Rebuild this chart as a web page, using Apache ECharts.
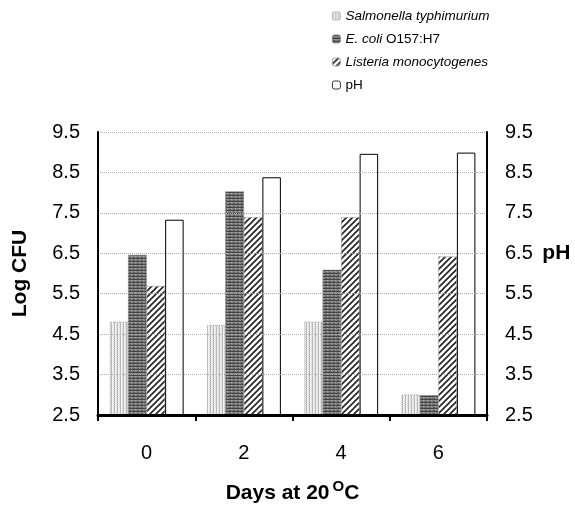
<!DOCTYPE html>
<html><head><meta charset="utf-8">
<script src="https://cdn.jsdelivr.net/npm/echarts@6/dist/echarts.min.js"></script>
<style>html,body{margin:0;padding:0;background:#fff}#c{width:575px;height:505px}</style>
</head><body><div id="c"></div>
<script>
var days = ['0', '2', '4', '6'];
var salmonella = [4.81, 4.73, 4.81, 3.01];
var ecoli = [6.46, 8.03, 6.09, 2.99];
var listeria = [5.69, 7.39, 7.39, 6.42];
var ph = [7.33, 8.38, 8.96, 8.99];
var yTicks = [2.5, 3.5, 4.5, 5.5, 6.5, 7.5, 8.5, 9.5];

function pat(w, h, draw) {
  var c = document.createElement('canvas');
  c.width = w; c.height = h;
  var g = c.getContext('2d');
  draw(g, w, h);
  return { image: c, repeat: 'repeat' };
}
var salPat = pat(3, 2, function (g) {
  g.fillStyle = '#f2f2f2'; g.fillRect(0, 0, 3, 2);
  g.fillStyle = '#a8a8a8'; g.fillRect(0, 0, 1, 1);
  g.fillStyle = '#c8c8c8'; g.fillRect(0, 1, 1, 1);
  g.fillStyle = '#d8d8d8'; g.fillRect(2, 1, 1, 1);
});
var ecoPat = pat(4, 3, function (g) {
  g.fillStyle = '#858585'; g.fillRect(0, 0, 4, 3);
  g.fillStyle = '#444'; g.fillRect(0, 0, 4, 1);
  g.fillStyle = '#606060'; g.fillRect(1, 2, 2, 1);
  g.fillStyle = '#aaa'; g.fillRect(3, 1, 1, 1);
});
var lisPat = pat(6, 6, function (g) {
  g.fillStyle = '#fff'; g.fillRect(0, 0, 6, 6);
  g.strokeStyle = '#222'; g.lineWidth = 1.6;
  g.beginPath();
  g.moveTo(-1, 7); g.lineTo(7, -1);
  g.moveTo(-1, 1); g.lineTo(1, -1);
  g.moveTo(5, 7); g.lineTo(7, 5);
  g.stroke();
});

var chart = echarts.init(document.getElementById('c'), null, { renderer: 'canvas' });
var labelFont = { fontFamily: 'Liberation Sans, Arial, sans-serif', fontSize: 20, color: '#000' };
chart.setOption({
  animation: false,
  textStyle: { fontFamily: 'Liberation Sans, Arial, sans-serif' },
  grid: { left: 98, right: 88, top: 132, bottom: 90, containLabel: false, outerBoundsMode: 'none' },
  legend: {
    orient: 'vertical', left: 327, top: 4,
    itemWidth: 8, itemHeight: 8, itemGap: 9,
    itemStyle: { borderWidth: 0.8 },
    textStyle: { fontSize: 13.5, color: '#000', rich: { i: { fontStyle: 'italic', fontSize: 13.5 } } },
    data: ['Salmonella typhimurium', 'E. coli O157:H7', 'Listeria monocytogenes', 'pH'],
    formatter: function (n) {
      if (n === 'E. coli O157:H7') return '{i|E. coli} O157:H7';
      if (n === 'pH') return 'pH';
      return '{i|' + n + '}';
    }
  },
  xAxis: {
    type: 'category', data: days, z: 10,
    axisLine: { lineStyle: { color: '#000', width: 3 } },
    axisTick: { show: true, length: 6, lineStyle: { color: '#000', width: 2 } },
    axisLabel: Object.assign({ margin: 28 }, labelFont),
    name: 'Days at 20{s|O}C', nameLocation: 'middle', nameGap: 64,
    nameTextStyle: { fontSize: 21, fontWeight: 'bold', color: '#000',
      rich: { s: { fontSize: 15, fontWeight: 'bold', verticalAlign: 'top', padding: [0, 0, 13, 3] } } }
  },
  yAxis: [{
    type: 'value', min: 2.5, max: 9.5, interval: 1, z: 10,
    axisLine: { show: true, lineStyle: { color: '#000', width: 2 } },
    axisTick: { show: false },
    axisLabel: Object.assign({ margin: 18 }, labelFont),
    splitLine: { show: true, lineStyle: { color: '#aaa', type: 'dotted', width: 1 } },
    name: 'Log CFU', nameLocation: 'middle', nameGap: 67,
    nameTextStyle: { fontSize: 21, fontWeight: 'bold', color: '#000' }
  }, {
    type: 'value', min: 2.5, max: 9.5, interval: 1, position: 'right', z: 10,
    axisLine: { show: true, lineStyle: { color: '#000', width: 2 } },
    axisTick: { show: false },
    splitLine: { show: false },
    axisLabel: Object.assign({ margin: 18,
      formatter: function (v) { return v === 6.5 ? v.toFixed(1) + ' {b|pH}' : v.toFixed(1); },
      rich: { b: { fontSize: 21, fontWeight: 'bold', color: '#000', padding: [0, 0, 0, 4] } } }, labelFont)
  }],
  series: [
    { name: 'Salmonella typhimurium', type: 'bar', data: salmonella, barWidth: 18.5, barGap: '0%',
      itemStyle: { color: salPat, borderColor: '#aaa', borderWidth: 1, borderType: 'dotted' } },
    { name: 'E. coli O157:H7', type: 'bar', data: ecoli, barWidth: 18.5, barGap: '0%',
      itemStyle: { color: ecoPat, borderColor: '#777', borderWidth: 0.5 } },
    { name: 'Listeria monocytogenes', type: 'bar', data: listeria, barWidth: 18.5, barGap: '0%',
      itemStyle: { color: lisPat, borderColor: '#999', borderWidth: 0.5 } },
    { name: 'pH', type: 'bar', data: ph, yAxisIndex: 1, barWidth: 18.5, barGap: '0%',
      itemStyle: { color: '#fff', borderColor: '#000', borderWidth: 1 } }
  ]
});
</script></body></html>
